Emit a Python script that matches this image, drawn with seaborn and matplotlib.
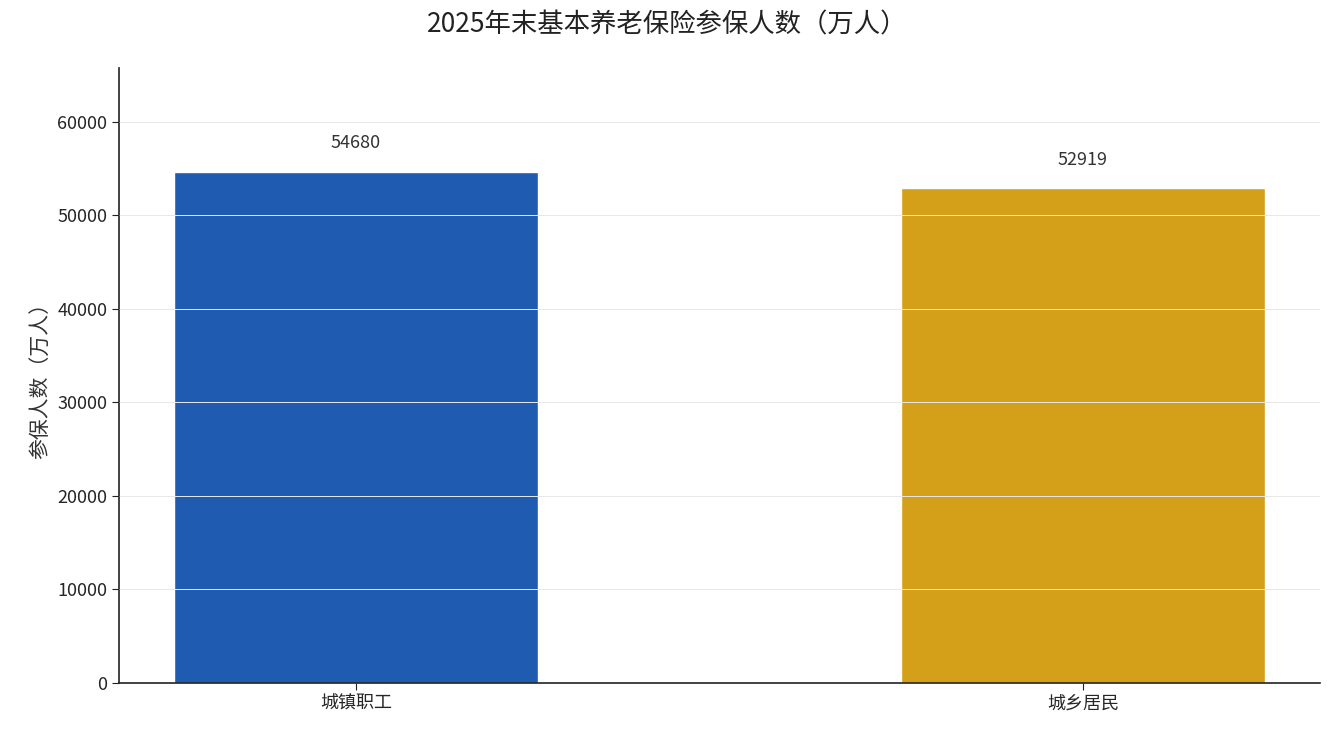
import matplotlib
matplotlib.use("Agg")
import matplotlib.pyplot as plt
import seaborn as sns
import pandas as pd

categories = ["城镇职工", "城乡居民"]
values = [54680, 52919]
colors = ["#1f5bb1", "#d4a01a"]

sns.set_style("white")
plt.rcParams["font.family"] = ["Noto Sans CJK SC", "DejaVu Sans"]

df = pd.DataFrame({"category": categories, "value": values})

fig = plt.figure(figsize=(13.35, 7.35), dpi=100)
ax = fig.add_axes([119 / 1335, 1 - 683 / 735, 1201 / 1335, 615 / 735])
sns.barplot(data=df, x="category", y="value", hue="category", palette=colors,
            width=0.5, dodge=False, legend=False, ax=ax, saturation=1)

ax.set_xlim(-0.326, 1.326)
ax.set_ylim(0, 65775)
ax.set_axisbelow(False)
ax.yaxis.grid(True, color="#e8e8e8", linewidth=0.7)
ax.set_yticks(range(0, 60001, 10000))
sns.despine(ax=ax)
for s in ["left", "bottom"]:
    ax.spines[s].set_color("#222222")
    ax.spines[s].set_linewidth(1.2)
ax.tick_params(axis="both", labelsize=13, length=5, left=True, bottom=True, color="#222222")

for i, v in enumerate(values):
    ax.annotate(str(v), (i, v), xytext=(0, 14), textcoords="offset points",
                ha="center", va="bottom", fontsize=13, color="#333333")

ax.set_xlabel("")
ax.set_ylabel("参保人数（万人）", fontsize=15, color="#333333")
fig.suptitle("2025年末基本养老保险参保人数（万人）", fontsize=19, y=0.985, color="#222222")

fig.savefig("out.png", dpi=100)
